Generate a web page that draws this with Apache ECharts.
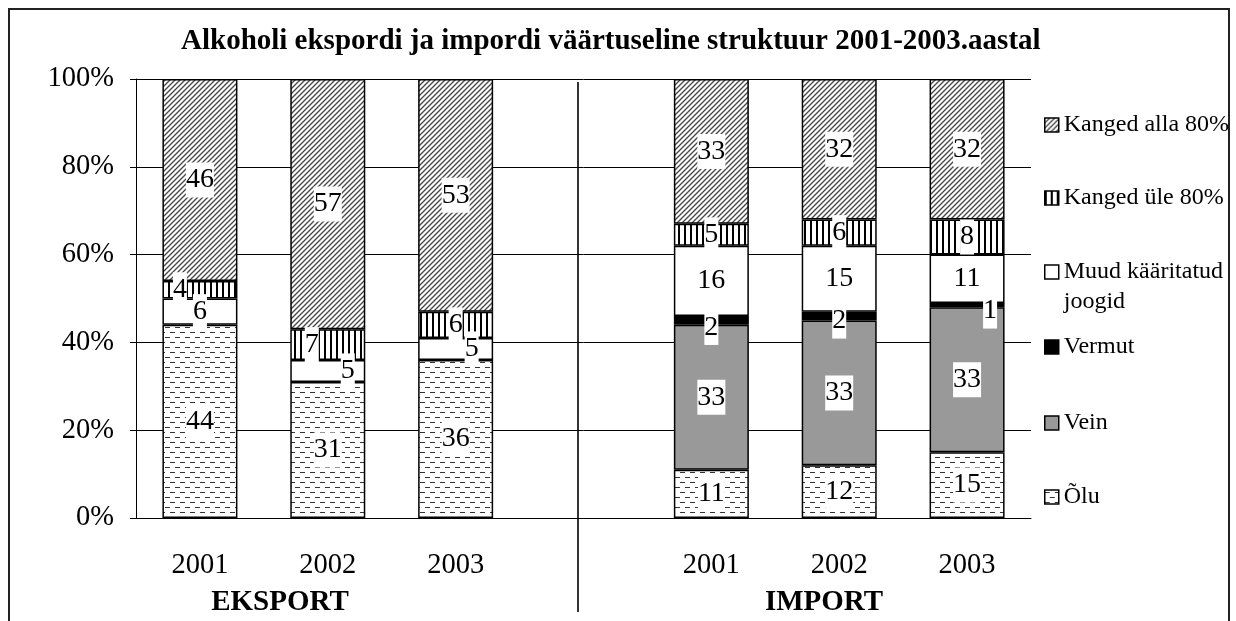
<!DOCTYPE html>
<html><head><meta charset="utf-8">
<script src="https://cdn.jsdelivr.net/npm/echarts@6/dist/echarts.min.js"></script>
<style>html,body{margin:0;padding:0;background:#fff}#c{width:1236px;height:621px}</style>
</head><body><div id="c"></div>
<script>
// ---- data ----
const titleText = 'Alkoholi ekspordi ja impordi väärtuseline struktuur 2001-2003.aastal';
const categories = ['2001', '2002', '2003', '', '2001', '2002', '2003'];
const groups = ['EKSPORT', 'IMPORT'];
const seriesNames = ['Õlu', 'Vein', 'Vermut', 'Muud kääritatud joogid', 'Kanged üle 80%', 'Kanged alla 80%'];
const olu    = [44, 31, 36, null, 11, 12, 15];
const vein   = [0, 0, 0, null, 33, 33, 33];
const vermut = [0, 0, 0, null, 2, 2, 1];
const muud   = [6, 5, 5, null, 16, 15, 11];
const ule    = [4, 7, 6, null, 5, 6, 8];
const alla   = [46, 57, 53, null, 33, 32, 32];
const yTicks = [0, 20, 40, 60, 80, 100];

// ---- styles ----
const FF = '"Liberation Serif", "Times New Roman", serif';
function pat(w, h, draw) {
  const c = document.createElement('canvas');
  c.width = w; c.height = h;
  const g = c.getContext('2d');
  g.fillStyle = '#fff'; g.fillRect(0, 0, w, h);
  draw(g);
  return { image: c, repeat: 'repeat' };
}
const allaPat = pat(5, 5, g => {
  g.strokeStyle = '#4a4a4a'; g.lineWidth = 1.4;
  g.beginPath();
  g.moveTo(-1, 6); g.lineTo(6, -1);
  g.moveTo(-1, 1); g.lineTo(1, -1);
  g.moveTo(4, 6); g.lineTo(6, 4);
  g.stroke();
});
const ulePat = pat(6, 4, g => { g.fillStyle = '#000'; g.fillRect(0, 0, 2, 4); });
const oluPat = pat(10, 10, g => {
  g.strokeStyle = '#333'; g.lineWidth = 1;
  g.beginPath();
  g.moveTo(0, 2.5); g.lineTo(5, 2.5);
  g.moveTo(5, 7.5); g.lineTo(10, 7.5);
  g.stroke();
});
const colors = [oluPat, '#999999', '#000000', '#ffffff', ulePat, allaPat];
const seriesData = [olu, vein, vermut, muud, ule, alla];
const labelOffsets = { '4-0': [-20, 0], '3-1': [20, 0], '4-1': [-16, 0], '3-2': [16, 0],
                       '2-4': [0, 7], '2-5': [0, 5], '2-6': [23, 6] };

const series = seriesData.map((arr, si) => ({
  name: seriesNames[si],
  type: 'bar',
  stack: 'all',
  barWidth: 75,
  itemStyle: { color: colors[si], borderColor: '#000', borderWidth: 1.5 },
  label: {
    show: true, position: 'inside', color: '#000', fontFamily: FF, fontSize: 28,
    backgroundColor: '#fff', padding: [1, 0, 1, 0], lineHeight: 33
  },
  data: arr.map((v, i) => ({
    value: v,
    itemStyle: v === 0 ? { borderWidth: 0 } : undefined,
    label: { show: v != null && v > 0, offset: labelOffsets[si + '-' + i] || [0, 0] }
  }))
}));

const legendOrder = [5, 4, 3, 2, 1, 0];
const legendY = [125, 198, 272, 347, 423, 497];
const legends = legendOrder.map((si, i) => ({
  data: [seriesNames[si]],
  left: 1044,
  top: legendY[i] - (si === 3 ? 45 : 15),
  padding: 0,
  icon: 'rect', itemWidth: 14, itemHeight: 14,
  itemStyle: { borderWidth: 1.5, borderColor: '#000' },
  selectedMode: false,
  formatter: si === 3 ? () => ' \nMuud kääritatud\njoogid' : '{name}',
  textStyle: { fontFamily: FF, fontSize: 24, color: '#000', lineHeight: 30 }
}));

const chart = echarts.init(document.getElementById('c'), null, { renderer: 'canvas' });
chart.setOption({
  animation: false,
  backgroundColor: '#fff',
  title: {
    text: titleText, left: 181, top: 27, padding: 0,
    textStyle: { fontFamily: FF, fontSize: 29, fontWeight: 'bold', color: '#000' }
  },
  legend: legends,
  grid: { left: 136, right: 205, top: 79, bottom: 103 },
  xAxis: {
    type: 'category', data: categories,
    axisLine: { lineStyle: { color: '#000', width: 1 } },
    axisTick: { length: 9, lineStyle: { color: '#000' } },
    axisLabel: { fontFamily: FF, fontSize: 28.5, color: '#000', margin: 33 }
  },
  yAxis: {
    type: 'value', min: yTicks[0], max: yTicks[yTicks.length - 1], interval: yTicks[1] - yTicks[0],
    axisLine: { show: true, lineStyle: { color: '#000', width: 1 } },
    axisTick: { show: true, length: 6, lineStyle: { color: '#000' } },
    splitLine: { lineStyle: { color: '#000', width: 1 } },
    axisLabel: { formatter: '{value}%', fontFamily: FF, fontSize: 28.5, color: '#000', margin: 22 }
  },
  graphic: [
    { type: 'rect', shape: { x: 9, y: 9, width: 1220, height: 640 },
      style: { fill: 'none', stroke: '#222', lineWidth: 2 }, silent: true, z: 0 },
    { type: 'line', shape: { x1: 578, y1: 82, x2: 578, y2: 612 },
      style: { stroke: '#333', lineWidth: 2 }, silent: true },
    { type: 'text', x: 280, y: 603, style: { text: groups[0], fontFamily: FF, fontSize: 29,
      fontWeight: 'bold', fill: '#000', textAlign: 'center', textVerticalAlign: 'middle' } },
    { type: 'text', x: 824, y: 603, style: { text: groups[1], fontFamily: FF, fontSize: 29,
      fontWeight: 'bold', fill: '#000', textAlign: 'center', textVerticalAlign: 'middle' } }
  ],
  series: series
});
</script></body></html>
